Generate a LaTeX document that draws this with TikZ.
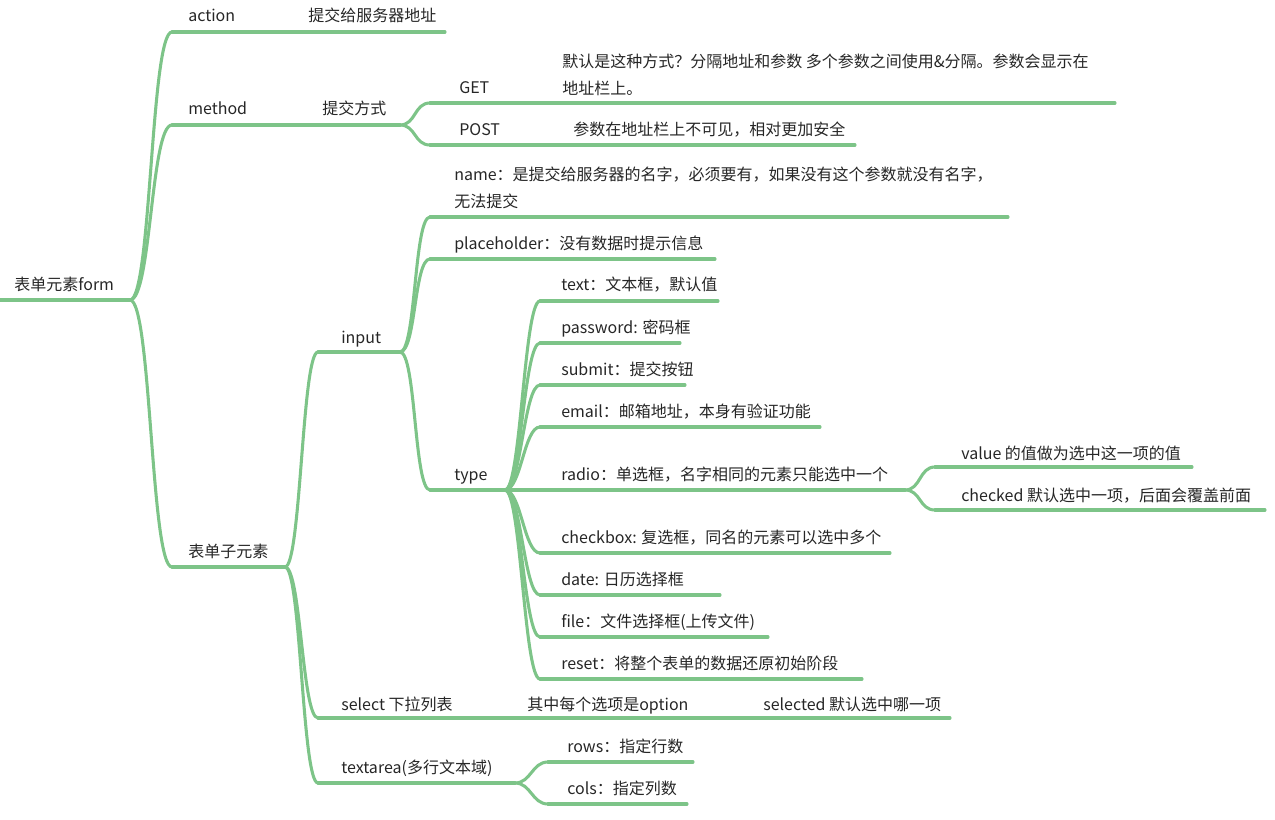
\documentclass[tikz,border=0pt]{standalone}
\usepackage{fontspec}
\setmainfont{Noto Sans CJK SC}
\usepackage{tikz}
\definecolor{mapgreen}{RGB}{125,196,136}
\definecolor{maptext}{RGB}{38,38,38}

\begin{document}
\begin{tikzpicture}[
  x=0.75pt, y=-0.75pt,
  font=\fontsize{12}{20.25}\selectfont,
  topic/.style={
    anchor=base west,
    inner sep=0pt,
    text=maptext
  },
  note/.style={
    anchor=west,
    inner sep=0pt,
    align=left,
    text=maptext
  },
  branch/.style={draw=mapgreen, line width=2.3pt, line cap=round},
  link/.style={out=0, in=180, distance=#1},
  link/.default=12pt
]
\useasboundingbox (0,0) rectangle (1275,820);

\node[topic] (form) at (14,290) {表单元素form};
\draw[branch] (0,300) coordinate (form-l) -- (130,300) coordinate (form-r);

% action / method
\node[topic] (act) at (188,22) {action};
\node[topic] (addr) at (308,22) {提交给服务器地址};
\draw[branch] (172,32) coordinate (act-l) -- (245,32) coordinate (act-r);
\draw[branch] (act-r) -- (445,32) coordinate (addr-r);

\node[topic] (meth) at (188,115) {method};
\node[topic] (way) at (322,115) {提交方式};
\draw[branch] (172,125) coordinate (meth-l) -- (258,125) coordinate (meth-r);
\draw[branch] (meth-r) -- (400,125) coordinate (way-r);

\node[topic] (get) at (459,94) {GET};
\node[note] (getinfo) at (562,74.5) {默认是这种方式？分隔地址和参数 多个参数之间使用\&分隔。参数会显示在\\地址栏上。};
\draw[branch] (430,103) coordinate (get-l) -- (484,103) coordinate (get-r);
\draw[branch] (get-r) -- (1115,103) coordinate (getinfo-r);

\node[topic] (post) at (459,136) {POST};
\node[topic] (postinfo) at (573,136) {参数在地址栏上不可见，相对更加安全};
\draw[branch] (430,145) coordinate (post-l) -- (492,145) coordinate (post-r);
\draw[branch] (post-r) -- (855,145) coordinate (postinfo-r);

% form children
\node[topic] (sub) at (188,557) {表单子元素};
\draw[branch] (172,567) coordinate (sub-l) -- (285,567) coordinate (sub-r);

\node[topic] (input) at (341,343) {input};
\draw[branch] (318,352) coordinate (input-l) -- (400,352) coordinate (input-r);

\node[note] (name) at (454,187.5) {name：是提交给服务器的名字，必须要有，如果没有这个参数就没有名字，\\无法提交};
\draw[branch] (430,217) coordinate (name-l) -- (1008,217);
\node[topic] (ph) at (454,249) {placeholder：没有数据时提示信息};
\draw[branch] (430,259) coordinate (ph-l) -- (715,259);
\node[topic] (type) at (454,480) {type};
\draw[branch] (430,490) coordinate (type-l) -- (505,490) coordinate (type-r);

\node[topic] (text) at (561,291) {text：文本框，默认值};
\draw[branch] (540,301) coordinate (text-l) -- (718,301);
\node[topic] (pwd) at (561,333) {password: 密码框};
\draw[branch] (540,343) coordinate (pwd-l) -- (680,343);
\node[topic] (submit) at (561,375) {submit：提交按钮};
\draw[branch] (540,385) coordinate (submit-l) -- (685,385);
\node[topic] (email) at (561,417) {email：邮箱地址，本身有验证功能};
\draw[branch] (540,427) coordinate (email-l) -- (820,427);
\node[topic] (radio) at (561,480) {radio：单选框，名字相同的元素只能选中一个};
\draw[branch] (type-r) -- (905,490) coordinate (radio-r);
\node[topic] (value) at (961,459) {value 的值做为选中这一项的值};
\draw[branch] (935,467) coordinate (value-l) -- (1192,467);
\node[topic] (checked) at (961,501) {checked 默认选中一项，后面会覆盖前面};
\draw[branch] (935,510) coordinate (checked-l) -- (1265,510);
\node[topic] (checkbox) at (561,543) {checkbox: 复选框，同名的元素可以选中多个};
\draw[branch] (540,553) coordinate (checkbox-l) -- (890,553);
\node[topic] (date) at (561,585) {date: 日历选择框};
\draw[branch] (540,595) coordinate (date-l) -- (720,595);
\node[topic] (file) at (561,627) {file：文件选择框(上传文件)};
\draw[branch] (540,637) coordinate (file-l) -- (768,637);
\node[topic] (reset) at (561,669) {reset：将整个表单的数据还原初始阶段};
\draw[branch] (540,679) coordinate (reset-l) -- (862,679);

\node[topic] (select) at (341,710) {select 下拉列表};
\node[topic] (option) at (527,710) {其中每个选项是option};
\node[topic] (selected) at (763,710) {selected 默认选中哪一项};
\draw[branch] (318,718) coordinate (select-l) -- (463,718) coordinate (select-r);
\draw[branch] (select-r) -- (700,718) coordinate (option-r);
\draw[branch] (option-r) -- (950,718);

\node[topic] (textarea) at (341,773) {textarea(多行文本域)};
\draw[branch] (318,783) coordinate (textarea-l) -- (515,783) coordinate (textarea-r);
\node[topic] (rows) at (567,752) {rows：指定行数};
\draw[branch] (548,762) coordinate (rows-l) -- (693,762);
\node[topic] (cols) at (567,794) {cols：指定列数};
\draw[branch] (548,804) coordinate (cols-l) -- (687,804);

% connectors
\draw[branch] (form-r) to[link=16pt] (act-l);
\draw[branch] (form-r) to[link=16pt] (meth-l);
\draw[branch] (form-r) to[link=16pt] (sub-l);
\draw[branch] (way-r) to[link] (get-l);
\draw[branch] (way-r) to[link] (post-l);
\draw[branch] (sub-r) to[link] (input-l);
\draw[branch] (sub-r) to[link] (select-l);
\draw[branch] (sub-r) to[link] (textarea-l);
\draw[branch] (input-r) to[link] (name-l);
\draw[branch] (input-r) to[link] (ph-l);
\draw[branch] (input-r) to[link] (type-l);
\draw[branch] (type-r) to[link] (text-l);
\draw[branch] (type-r) to[link] (pwd-l);
\draw[branch] (type-r) to[link] (submit-l);
\draw[branch] (type-r) to[link] (email-l);
\draw[branch] (type-r) to[link] (checkbox-l);
\draw[branch] (type-r) to[link] (date-l);
\draw[branch] (type-r) to[link] (file-l);
\draw[branch] (type-r) to[link] (reset-l);
\draw[branch] (radio-r) to[link] (value-l);
\draw[branch] (radio-r) to[link] (checked-l);
\draw[branch] (textarea-r) to[link] (rows-l);
\draw[branch] (textarea-r) to[link] (cols-l);
\end{tikzpicture}
\end{document}
